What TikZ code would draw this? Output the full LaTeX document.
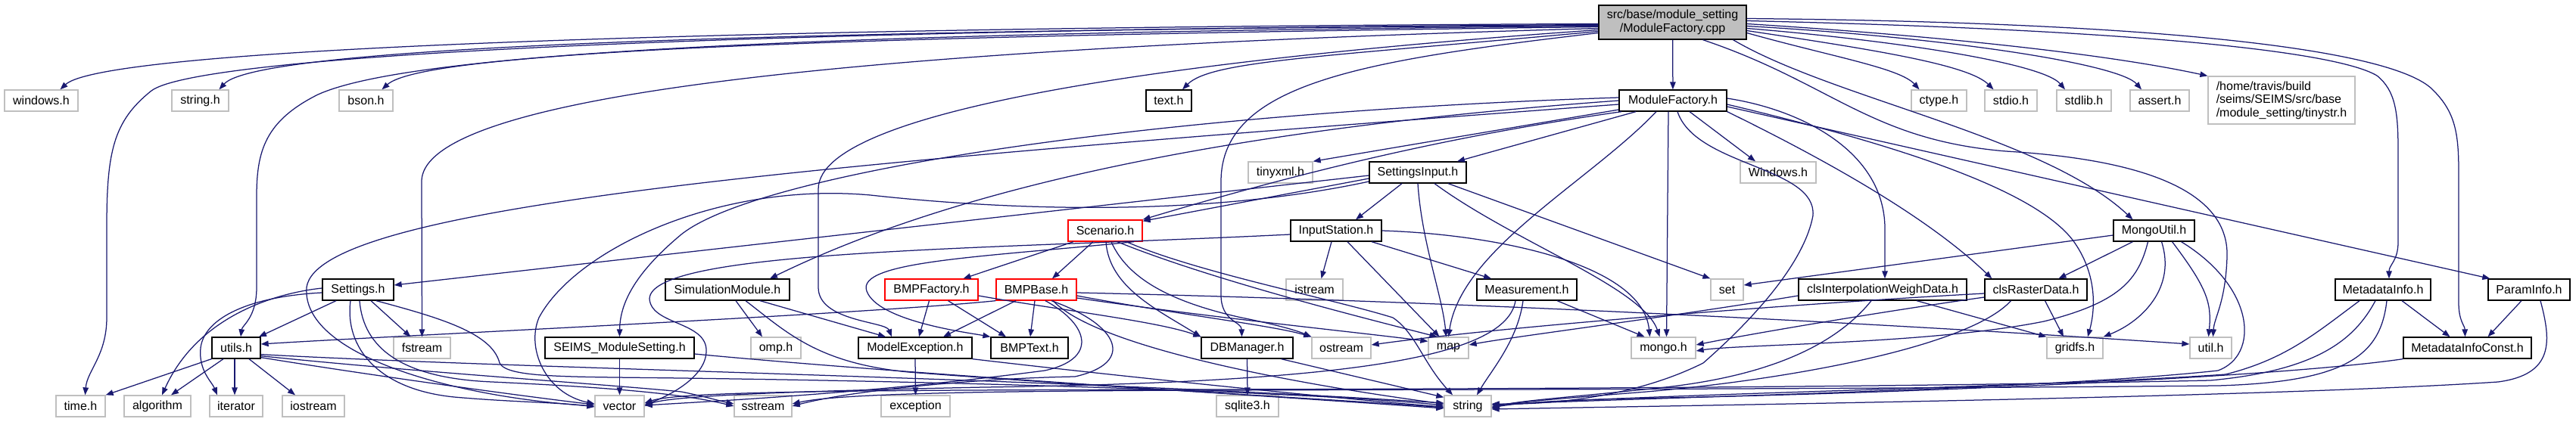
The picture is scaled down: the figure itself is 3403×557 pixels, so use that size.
\documentclass[tikz,border=0pt]{standalone}
\usepackage{fontspec}
\setmainfont{Liberation Sans}
\usetikzlibrary{arrows.meta,calc}
\definecolor{eb}{HTML}{191970}
\definecolor{gb}{HTML}{BFBFBF}
\newcommand\dxf{\fontsize{16}{17.5}\selectfont}
\tikzset{
  nb/.style={rectangle, minimum height=28pt, inner sep=0pt, font=\dxf, text=black, line width=1.3pt},
  kbox/.style={nb, draw=black},
  gbox/.style={nb, draw=gb},
  rbox/.style={nb, draw=red},
  ed/.style={draw=eb, line width=1.25pt, -{Triangle[length=10pt,width=7.5pt]}},
}
\begin{document}
\begin{tikzpicture}[x=1pt,y=-1pt]
\useasboundingbox[fill=white] (0,0) rectangle (3403,557);
% row 0
\node[kbox, fill=gb, minimum width=195pt, minimum height=45pt, align=center] (cpp) at (2209.5,29.5) {src/base/module\_setting\\/ModuleFactory.cpp};
% row 1
\node[gbox, minimum width=97pt] (win) at (54.5,133) {windows.h};
\node[gbox, minimum width=75pt] (strh) at (264.5,133) {string.h};
\node[gbox, minimum width=71pt] (bson) at (483.5,133) {bson.h};
\node[kbox, minimum width=60pt] (text) at (1544,133) {text.h};
\node[kbox, minimum width=142pt] (mf) at (2210,133) {ModuleFactory.h};
\node[gbox, minimum width=73pt] (ctype) at (2561.5,133) {ctype.h};
\node[gbox, minimum width=69pt] (stdio) at (2656.5,133) {stdio.h};
\node[gbox, minimum width=72pt] (stdlib) at (2753,133) {stdlib.h};
\node[gbox, minimum width=78pt] (assert) at (2853,133) {assert.h};
\node[gbox, minimum width=194pt, minimum height=63pt, align=left] (tiny) at (3014,132.5) {/home/travis/build\\/seims/SEIMS/src/base\\/module\_setting/tinystr.h};
% row 2
\node[gbox, minimum width=85pt] (tinyxml) at (1691.5,228) {tinyxml.h};
\node[kbox, minimum width=128pt] (si) at (1873,228) {SettingsInput.h};
\node[gbox, minimum width=100pt] (wun) at (2349,228) {Windows.h};
% row 3
\node[rbox, minimum width=98pt] (scen) at (1460,305) {Scenario.h};
\node[kbox, minimum width=120pt] (is) at (1765,305) {InputStation.h};
\node[kbox, minimum width=107pt] (mu) at (2845.5,305) {MongoUtil.h};
% row 4
\node[kbox, minimum width=94pt] (sett) at (473,383) {Settings.h};
\node[kbox, minimum width=164pt] (sim) at (961,383) {SimulationModule.h};
\node[rbox, minimum width=123pt] (bf) at (1230.5,383) {BMPFactory.h};
\node[rbox, minimum width=106pt] (bb) at (1369,383) {BMPBase.h};
\node[gbox, minimum width=75pt] (istr) at (1736.5,383) {istream};
\node[kbox, minimum width=132pt] (meas) at (2017,383) {Measurement.h};
\node[gbox, minimum width=43pt] (st) at (2281.5,383) {set};
\node[kbox, minimum width=222pt] (cidw) at (2487,383) {clsInterpolationWeighData.h};
\node[kbox, minimum width=135pt] (crd) at (2689.5,383) {clsRasterData.h};
\node[kbox, minimum width=126pt] (mi) at (3148,383) {MetadataInfo.h};
\node[kbox, minimum width=108pt] (pi) at (3341,383) {ParamInfo.h};
% row 5
\node[kbox, minimum width=64pt] (utils) at (312,460) {utils.h};
\node[gbox, minimum width=75pt] (fstr) at (557.5,460) {fstream};
\node[kbox, minimum width=197pt] (sms) at (818.5,460) {SEIMS\_ModuleSetting.h};
\node[gbox, minimum width=66pt] (omp) at (1025,460) {omp.h};
\node[kbox, minimum width=150pt] (me) at (1209,460) {ModelException.h};
\node[kbox, minimum width=102pt] (bt) at (1360,460) {BMPText.h};
\node[kbox, minimum width=121pt] (dbm) at (1647.5,460) {DBManager.h};
\node[gbox, minimum width=78pt] (ostr) at (1772,460) {ostream};
\node[gbox, minimum width=53pt] (mp) at (1913.5,460) {map};
\node[gbox, minimum width=85pt] (mongo) at (2197.5,460) {mongo.h};
\node[gbox, minimum width=74pt] (gfs) at (2741,460) {gridfs.h};
\node[gbox, minimum width=55pt] (util) at (2920.5,460) {util.h};
\node[kbox, minimum width=169pt] (mic) at (3259.5,460) {MetadataInfoConst.h};
% row 6
\node[gbox, minimum width=65pt] (tm) at (106.5,537) {time.h};
\node[gbox, minimum width=88pt] (alg) at (208,537) {algorithm};
\node[gbox, minimum width=70pt] (iter) at (312,537) {iterator};
\node[gbox, minimum width=82pt] (iostr) at (414,537) {iostream};
\node[gbox, minimum width=65pt] (vec) at (818.5,537) {vector};
\node[gbox, minimum width=76pt] (sstr) at (1008,537) {sstream};
\node[gbox, minimum width=91pt] (exc) at (1209.5,537) {exception};
\node[gbox, minimum width=82pt] (sql) at (1648,537) {sqlite3.h};
\node[gbox, minimum width=62pt] (str) at (1939,537) {string};

% ---- edges from cpp
\draw[ed] ($(cpp.west)+(0,2)$) .. controls (1000,36) and (140,62) .. ([xshift=25pt]win.north);
\draw[ed] ($(cpp.west)+(0,3)$) .. controls (900,40) and (260,75) .. (200,120) .. controls (150,160) and (141,200) .. (141,300) -- (141,420) .. controls (141,470) and (115,490) .. ([xshift=6pt]tm.north);
\draw[ed] ($(cpp.west)+(0,4)$) .. controls (1000,40) and (340,62) .. ([xshift=25pt]strh.north);
\draw[ed] ($(cpp.west)+(0,5)$) .. controls (900,44) and (520,80) .. (420,125) .. controls (350,160) and (339,200) .. (339,260) -- (339,380) .. controls (339,420) and (320,430) .. ([xshift=6pt]utils.north);
\draw[ed] ($(cpp.west)+(0,6)$) .. controls (1100,48) and (560,68) .. ([xshift=21pt]bson.north);
\draw[ed] ($(cpp.west)+(0,8)$) .. controls (1300,60) and (557,110) .. (557,240) -- (fstr.north);
\draw[ed] ($(cpp.west)+(0,10)$) .. controls (1600,75) and (1081,140) .. (1081,250) -- (1081,380) .. controls (1081,425) and (1170,425) .. ([xshift=-31pt]me.north);
\draw[ed] ($(cpp.west)+(0,12)$) .. controls (1750,75) and (1600,80) .. ([xshift=18pt]text.north);
\draw[ed] ($(cpp.west)+(0,14)$) .. controls (1800,80) and (1613,110) .. (1613,240) -- (1613,390) .. controls (1613,425) and (1640,425) .. ([xshift=-7pt]dbm.north);
\draw[ed] (cpp) -- (mf);
\draw[ed] ([xshift=80pt]cpp.south) .. controls (2420,130) and (2700,180) .. ([xshift=-28pt]mu.north);
\draw[ed] ([xshift=40pt]cpp.south) .. controls (2420,110) and (2470,185) .. (2650,200) .. controls (2850,212) and (2945,260) .. (2942,340) .. controls (2940,400) and (2925,420) .. ([xshift=3pt]util.north);
\draw[ed] ($(cpp.east)+(0,14)$) .. controls (2420,75) and (2510,90) .. ([xshift=-26pt]ctype.north);
\draw[ed] ($(cpp.east)+(0,11)$) .. controls (2470,65) and (2600,85) .. ([xshift=-23pt]stdio.north);
\draw[ed] ($(cpp.east)+(0,8)$) .. controls (2520,55) and (2700,85) .. ([xshift=-25pt]stdlib.north);
\draw[ed] ($(cpp.east)+(0,5)$) .. controls (2580,50) and (2800,85) .. ([xshift=-24pt]assert.north);
\draw[ed] ($(cpp.east)+(0,2)$) .. controls (2600,50) and (2800,75) .. (tiny.north west);
\draw[ed] ($(cpp.east)+(0,-2)$) .. controls (2850,40) and (3090,70) .. (3140,100) .. controls (3165,120) and (3168,150) .. (3168,200) -- (3168,320) .. controls (3168,345) and (3156,350) .. ([xshift=8pt]mi.north);
\draw[ed] ($(cpp.east)+(0,-5)$) .. controls (2900,30) and (3170,70) .. (3215,120) .. controls (3245,150) and (3248,180) .. (3248,230) -- (3248,400) .. controls (3248,425) and (3256,430) .. ([xshift=-3pt]mic.north);

% ---- edges from ModuleFactory.h
\draw[ed] ($(mf.west)+(0,12)$) -- (tinyxml.north east);
\draw[ed] ([xshift=-49pt]mf.south) -- ([xshift=52pt]si.north);
\draw[ed] ([xshift=-68pt]mf.south) .. controls (1950,175) and (1760,215) .. (scen.north east);
\draw[ed] (mf.west) .. controls (1700,165) and (1300,230) .. ([xshift=56pt]sim.north);
\draw[ed] ($(mf.west)+(0,-4)$) .. controls (1500,150) and (1000,230) .. (900,310) .. controls (840,360) and (819,400) .. (sms.north);
\draw[ed] ([xshift=22pt]mf.south) -- ([xshift=-30pt]wun.north);
\draw[ed] ([xshift=-22pt]mf.south) .. controls (2100,240) and (1930,330) .. (mp.north);
\draw[ed] ([xshift=-6pt]mf.south) -- ([xshift=4pt]mongo.north);
\draw[ed] ([xshift=6pt]mf.south) .. controls (2240,220) and (2400,220) .. (2395,285) .. controls (2385,340) and (2330,410) .. (2250,480) .. controls (2150,530) and (2030,535) .. ($(str.east)+(0,-3)$);
\draw[ed] ($(mf.west)+(0,5)$) .. controls (1100,215) and (420,270) .. (405,380) .. controls (398,470) and (600,525) .. (vec.west);
\draw[ed] ($(mf.east)+(0,5)$) .. controls (2500,190) and (2690,250) .. (2740,320) .. controls (2775,370) and (2765,420) .. ([xshift=17pt]gfs.north);
\draw[ed] ($(mf.east)+(0,-3)$) .. controls (2380,145) and (2488,200) .. (2490,300) -- ([xshift=3pt]cidw.north);
\draw[ed] ($(mf.east)+(0,8)$) -- ([xshift=3pt]pi.north west);
\draw[ed] (mf.south east) .. controls (2450,230) and (2560,300) .. ([xshift=10pt]crd.north west);

% ---- SettingsInput.h
\draw[ed] ($(si.west)+(0,4)$) -- ($(sett.east)+(0,-6)$);
\draw[ed] ($(si.west)+(0,8)$) -- ($(scen.north east)+(0,2)$);
\draw[ed] ($(si.west)+(0,12)$) .. controls (1600,285) and (1350,280) .. (1150,258) .. controls (950,240) and (760,330) .. (712,420) .. controls (695,460) and (720,520) .. ($(vec.west)+(0,-3)$);
\draw[ed] ([xshift=-21pt]si.south) -- ([xshift=26pt]is.north);
\draw[ed] (si.south) .. controls (1878,320) and (1905,390) .. ([xshift=-3pt]mp.north);
\draw[ed] ([xshift=22pt]si.south) .. controls (2000,320) and (2170,380) .. ([xshift=-5pt]mongo.north);
\draw[ed] ([xshift=40pt]si.south) -- (st.north west);

% ---- InputStation.h
\draw[ed] ([xshift=-6pt]is.south) -- ([xshift=9pt]istr.north);
\draw[ed] ([xshift=15pt]is.south) -- ([xshift=-12pt]mp.north);
\draw[ed] ([xshift=47pt]is.south) -- ([xshift=-47pt]meas.north);
\draw[ed] (is.east) .. controls (1980,310) and (2170,350) .. ([xshift=-18pt]mongo.north);
\draw[ed] ($(is.west)+(0,5)$) .. controls (1300,330) and (860,330) .. (858,395) .. controls (860,430) and (935,425) .. (933,465) .. controls (932,500) and (880,525) .. ($(vec.east)+(0,-2)$);

% ---- Measurement.h
\draw[ed] ([xshift=40pt]meas.south) -- ([xshift=-25pt]mongo.north);
\draw[ed] ([xshift=-5pt]meas.south) .. controls (2005,450) and (1970,490) .. ([xshift=12pt]str.north);
\draw[ed] ([xshift=-15pt]meas.south) .. controls (1990,470) and (1800,505) .. (1300,512) .. controls (1000,518) and (880,525) .. (vec.east);

% ---- Scenario.h
\draw[ed] ([xshift=-42pt]scen.south) -- ([xshift=42pt]bf.north);
\draw[ed] ([xshift=-16pt]scen.south) -- ([xshift=21pt]bb.north);
\draw[ed] ([xshift=1pt]scen.south) .. controls (1465,380) and (1530,410) .. (dbm.north west);
\draw[ed] ([xshift=8pt]scen.south) .. controls (1490,370) and (1550,400) .. (1640,420) .. controls (1700,432) and (1720,440) .. (ostr.north west);
\draw[ed] ([xshift=16pt]scen.south) .. controls (1600,370) and (1800,420) .. ([xshift=-15pt]mp.north);
\draw[ed] ([xshift=28pt]scen.south) .. controls (1580,360) and (1760,395) .. (1840,420) .. controls (1870,440) and (1880,480) .. ([xshift=-20pt]str.north);
\draw[ed] ([xshift=38pt]scen.south) .. controls (1300,340) and (1130,345) .. (1145,385) .. controls (1160,425) and (1280,440) .. (bt.north west);

% ---- BMPFactory.h
\draw[ed] ([xshift=-3pt]bf.south) -- ([xshift=5pt]me.north);
\draw[ed] ([xshift=22pt]bf.south) -- ([xshift=-31pt]bt.north);
\draw[ed] ($(bf.east)+(0,8)$) .. controls (1400,410) and (1530,425) .. (dbm.north west);

% ---- BMPBase.h
\draw[ed] ([xshift=-27pt]bb.south) -- ([xshift=37pt]me.north);
\draw[ed] ([xshift=-2pt]bb.south) -- ([xshift=1pt]bt.north);
\draw[ed] (bb.south west) .. controls (1150,415) and (500,445) .. ($(utils.east)+(0,-5)$);
\draw[ed] ($(bb.east)+(0,4)$) .. controls (2000,400) and (2600,435) .. ($(util.west)+(0,-5)$);
\draw[ed] ($(bb.east)+(0,8)$) .. controls (1550,415) and (1680,430) .. (ostr.north west);
\draw[ed] ($(bb.east)+(0,11)$) .. controls (1600,420) and (1800,440) .. ($(mp.north west)+(0,6)$);
\draw[ed] ([xshift=22pt]bb.south) .. controls (1460,470) and (1800,520) .. ($(str.west)+(0,-3)$);
\draw[ed] ([xshift=12pt]bb.south) .. controls (1440,430) and (1450,475) .. (1380,490) .. controls (1150,520) and (950,530) .. ($(vec.east)+(0,-1)$);
\draw[ed] ([xshift=20pt]bb.south) .. controls (1480,430) and (1500,480) .. (1420,498) .. controls (1300,500) and (1130,515) .. (sstr.east);

% ---- SimulationModule.h
\draw[ed] ([xshift=11pt]sim.south) -- ([xshift=-18pt]omp.north);
\draw[ed] ([xshift=43pt]sim.south) -- ([xshift=-39pt]me.north);
\draw[ed] ([xshift=24pt]sim.south) .. controls (1040,440) and (1080,480) .. (1200,492) .. controls (1500,515) and (1800,530) .. ($(str.west)+(0,2)$);

% ---- SEIMS_ModuleSetting.h, ModelException.h, DBManager.h
\draw[ed] (sms.south) -- (vec.north);
\draw[ed] ($(sms.east)+(0,8)$) .. controls (1200,495) and (1700,525) .. ($(str.west)+(0,3)$);
\draw[ed] (me.south) -- (exc.north);
\draw[ed] (me.south east) .. controls (1500,500) and (1800,530) .. ($(str.west)+(0,1)$);
\draw[ed] (dbm.south) -- (sql.north);
\draw[ed] ([xshift=45pt]dbm.south) -- ($(str.north west)+(0,3)$);

% ---- Settings.h
\draw[ed] ([xshift=-29pt]sett.south) -- ([xshift=30pt]utils.north);
\draw[ed] ([xshift=17pt]sett.south) -- ([xshift=-15pt]fstr.north);
\draw[ed] ($(sett.west)+(0,-2)$) .. controls (360,388) and (260,420) .. ([xshift=6pt]alg.north);
\draw[ed] ($(sett.west)+(0,4)$) .. controls (330,392) and (270,420) .. (265,460) .. controls (262,490) and (280,505) .. ([xshift=-25pt]iter.north);
\draw[ed] ([xshift=-10pt]sett.south) .. controls (455,460) and (500,515) .. (600,525) .. controls (680,532) and (740,532) .. ($(vec.west)+(0,1)$);
\draw[ed] ([xshift=2pt]sett.south) .. controls (480,460) and (530,500) .. (650,505) .. controls (800,512) and (900,520) .. (sstr.west);
\draw[ed] ([xshift=24pt]sett.south) .. controls (580,420) and (650,440) .. (660,480) .. controls (670,500) and (750,498) .. (900,500) .. controls (1300,505) and (1750,520) .. ($(str.west)+(0,-1)$);

% ---- utils.h
\draw[ed] (utils.south west) -- (tm.north east);
\draw[ed] ([xshift=-17pt]utils.south) -- ([xshift=18pt]alg.north);
\draw[ed] ([xshift=-2pt]utils.south) -- ([xshift=-2pt]iter.north);
\draw[ed] ([xshift=17pt]utils.south) -- ([xshift=-24pt]iostr.north);
\draw[ed] ($(utils.south east)+(0,-2)$) .. controls (500,498) and (700,525) .. ($(vec.west)+(0,-2)$);
\draw[ed] ($(utils.south east)+(0,-4)$) .. controls (550,492) and (800,508) .. (900,518) .. controls (930,524) and (950,530) .. ($(sstr.west)+(0,-3)$);
\draw[ed] ($(utils.south east)+(0,-6)$) .. controls (700,488) and (1400,500) .. ($(str.west)+(0,-4)$);

% ---- MongoUtil.h
\draw[ed] ($(mu.west)+(0,6)$) -- ($(st.east)+(0,-6)$);
\draw[ed] ([xshift=-28pt]mu.south) -- ([xshift=30pt]crd.north);
\draw[ed] ([xshift=-8pt]mu.south) .. controls (2825,370) and (2800,400) .. (2700,425) .. controls (2550,455) and (2300,455) .. ($(mongo.east)+(0,4)$);
\draw[ed] ([xshift=10pt]mu.south) .. controls (2875,380) and (2830,425) .. (gfs.north east);
\draw[ed] ([xshift=24pt]mu.south) .. controls (2915,380) and (2922,400) .. ([xshift=-3pt]util.north);
\draw[ed] ([xshift=36pt]mu.south) .. controls (2980,380) and (2985,470) .. (2930,490) .. controls (2700,515) and (2200,525) .. ($(str.east)+(0,-2)$);

% ---- clsRasterData.h
\draw[ed] ([xshift=12pt]crd.south) -- ([xshift=-15pt]gfs.north);
\draw[ed] ($(crd.west)+(0,10)$) .. controls (2500,410) and (2320,440) .. ($(mongo.east)+(0,-4)$);
\draw[ed] ($(crd.west)+(0,5)$) .. controls (2400,400) and (2000,430) .. ($(ostr.east)+(0,-4)$);
\draw[ed] ([xshift=-33pt]crd.south) .. controls (2600,460) and (2350,505) .. (2150,520) .. controls (2050,528) and (2000,532) .. ($(str.east)+(0,1)$);

% ---- clsInterpolationWeighData.h
\draw[ed] ([xshift=45pt]cidw.south) -- (gfs.north west);
\draw[ed] ($(cidw.west)+(0,8)$) .. controls (2200,420) and (2000,445) .. ($(mp.east)+(0,-4)$);
\draw[ed] ([xshift=-15pt]cidw.south) .. controls (2430,450) and (2350,495) .. (2200,512) .. controls (2080,525) and (2000,530) .. ($(str.east)+(0,3)$);

% ---- MetadataInfo.h
\draw[ed] ([xshift=25pt]mi.south) -- ([xshift=-23pt]mic.north);
\draw[ed] ([xshift=-31pt]mi.south) .. controls (3060,440) and (3020,475) .. (2940,495) .. controls (2700,512) and (2200,520) .. ($(str.east)+(0,-1)$);
\draw[ed] ([xshift=-10pt]mi.south) .. controls (3110,450) and (3060,490) .. (2920,503) .. controls (2500,512) and (2000,514) .. (1600,515) .. controls (1200,516) and (900,516) .. ($(vec.east)+(0,-4)$);
\draw[ed] ([xshift=5pt]mi.south) .. controls (3145,470) and (3100,505) .. (2930,510) .. controls (2500,514) and (2000,515) .. (1600,516) .. controls (1250,517) and (1100,522) .. ($(sstr.east)+(0,-3)$);

% ---- MetadataInfoConst.h, ParamInfo.h
\draw[ed] (mic.south west) .. controls (3000,500) and (2500,520) .. (2200,526) .. controls (2080,528) and (2010,532) .. ($(str.east)+(0,2)$);
\draw[ed] ([xshift=-10pt]pi.south) -- ([xshift=27pt]mic.north);
\draw[ed] ([xshift=15pt]pi.south) .. controls (3370,450) and (3375,495) .. (3300,505) .. controls (3000,525) and (2300,535) .. ($(str.east)+(0,4)$);
\end{tikzpicture}
\end{document}
